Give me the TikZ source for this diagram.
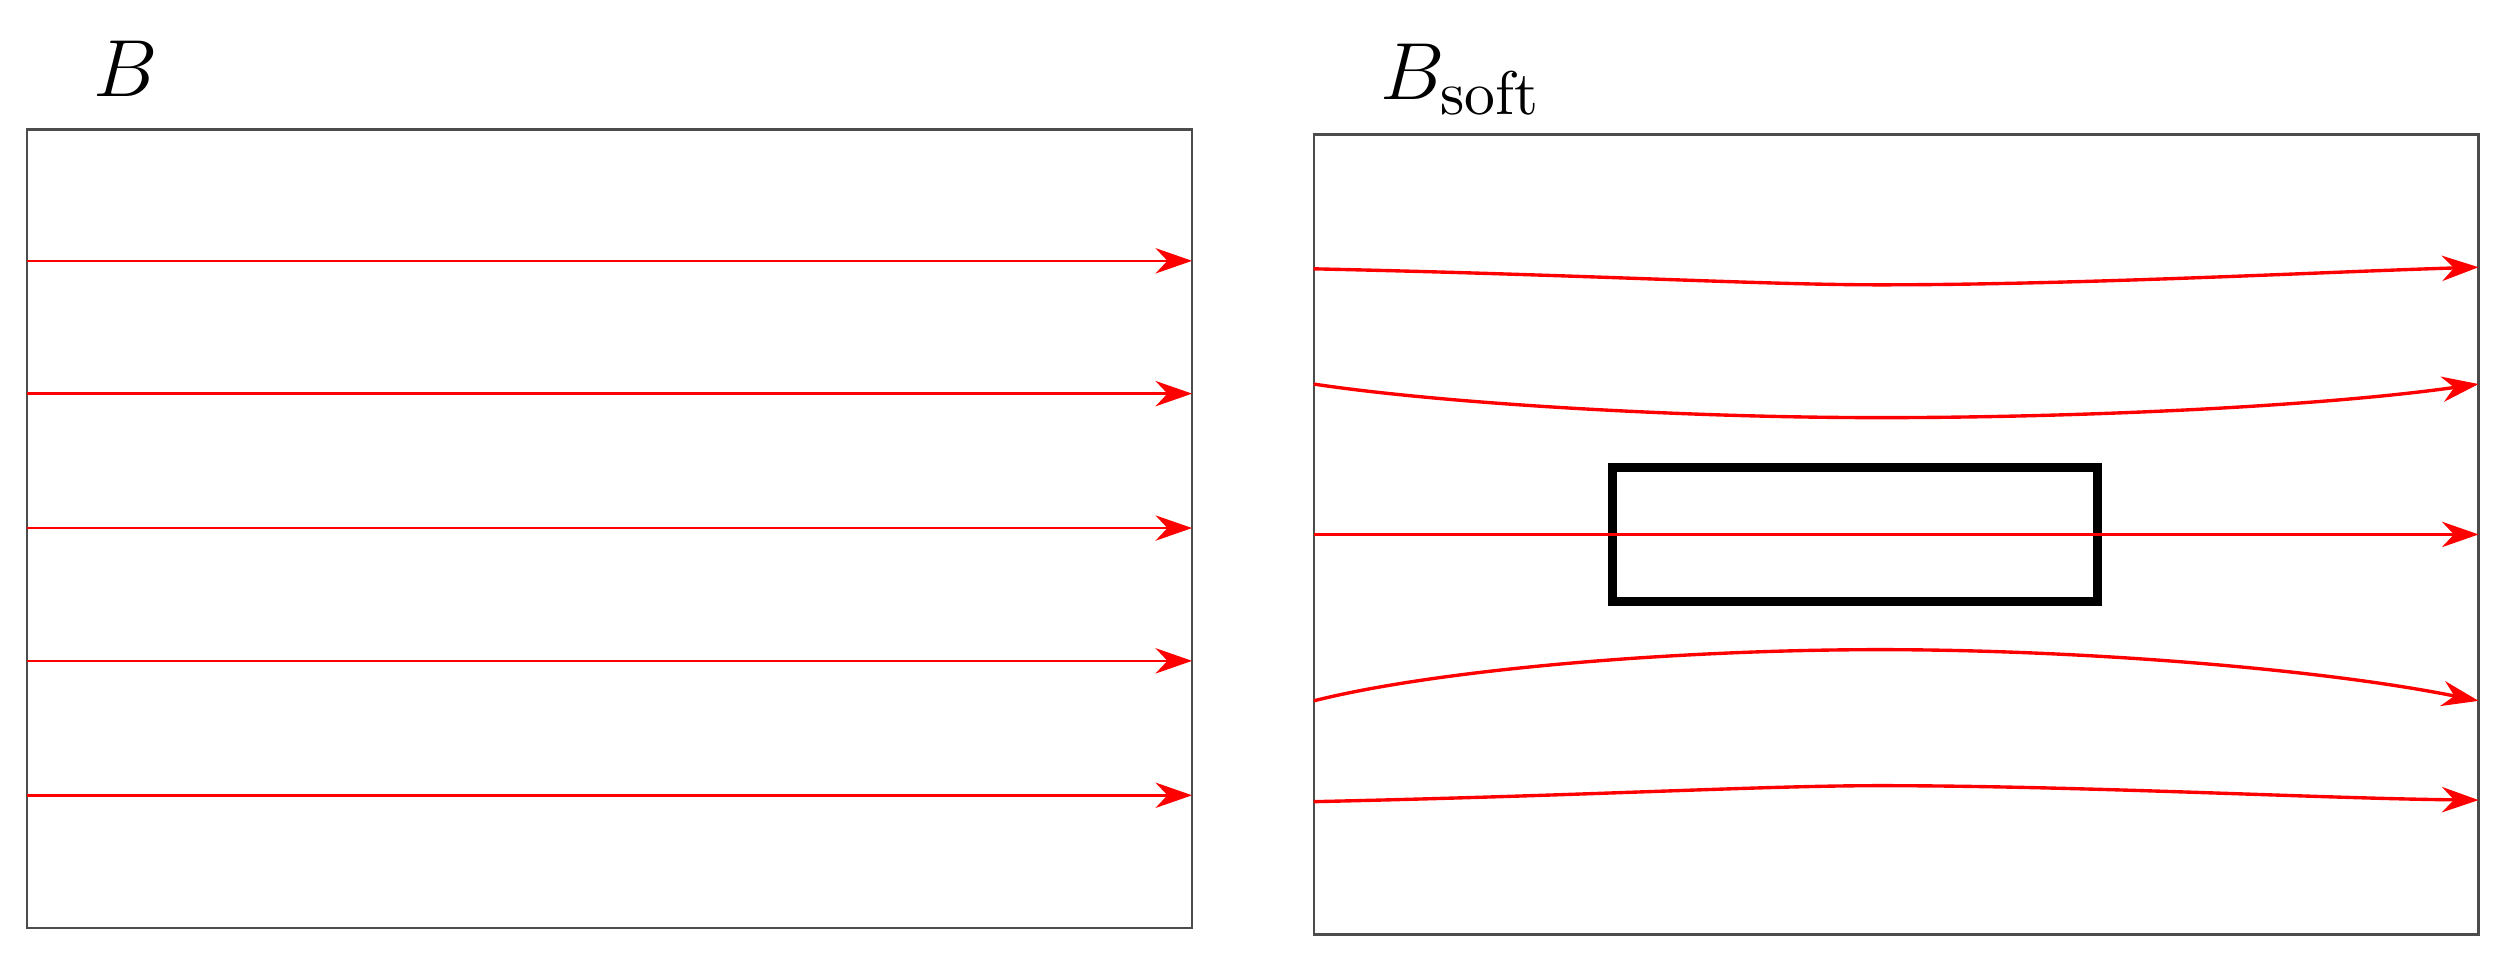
\documentclass[tikz,border=0pt]{standalone}
\usetikzlibrary{arrows.meta}
\begin{document}
\begin{tikzpicture}[x=0.01cm,y=-0.01cm,
  fl/.style={red,line width=0.6pt,-{Stealth[length=6.5pt,width=4.5pt]}},
  box/.style={draw=black!70,line width=0.4pt},
  lab/.style={font=\fontsize{15}{17}\selectfont,anchor=base west}]
\useasboundingbox (0,0) rectangle (1563,600);
\draw[box] (17,81) rectangle (745,580);
\draw[box] (821,84) rectangle (1549,584);
\node[lab] (lb) at (46,60) {$B$};
\node[lab] (ls) at (850,62) {$B_{\mathrm{soft}}$};
\foreach \y in {163,246,330,413,497} \draw[fl,line width=0.45pt] (17,\y) -- (745,\y);
\draw[line width=1.6pt] (1008,292) rectangle (1311,376);
\draw[fl] (821,168) .. controls (1000,172) and (1100,178) .. (1175,178) .. controls (1300,178) and (1450,170) .. (1549,167);
\draw[fl] (821,240) .. controls (900,252) and (1050,261) .. (1175,261) .. controls (1300,261) and (1450,254) .. (1549,240);
\draw[fl] (821,334) -- (1549,334);
\draw[fl] (821,438) .. controls (900,418) and (1050,406) .. (1175,406) .. controls (1300,406) and (1450,418) .. (1549,438);
\draw[fl] (821,501) .. controls (1000,497) and (1100,491) .. (1175,491) .. controls (1300,491) and (1450,499) .. (1549,500);
\end{tikzpicture}
\end{document}
